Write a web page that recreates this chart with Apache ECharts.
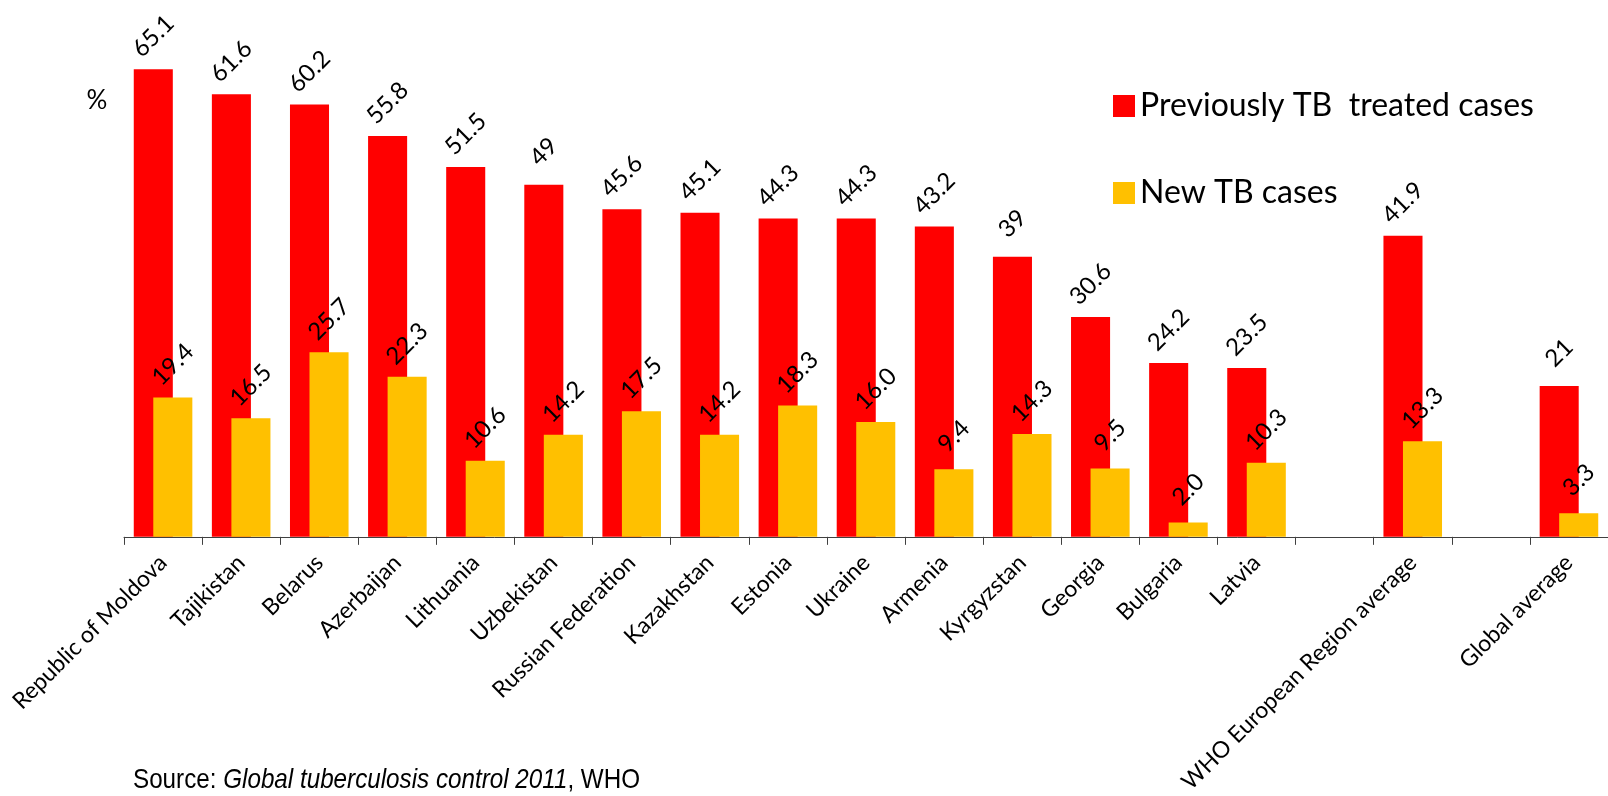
<!DOCTYPE html>
<html>
<head>
<meta charset="utf-8">
<script src="https://cdn.jsdelivr.net/npm/echarts@6/dist/echarts.min.js"></script>
<style>
html,body{margin:0;padding:0;background:#fff;}
#chart{width:1608px;height:796px;}
</style>
</head>
<body>
<div id="chart"></div>
<script>
var categories = ['Republic of Moldova','Tajikistan','Belarus','Azerbaijan','Lithuania','Uzbekistan','Russian Federation','Kazakhstan','Estonia','Ukraine','Armenia','Kyrgyzstan','Georgia','Bulgaria','Latvia','','WHO European Region average','','Global average'];
var previouslyTreated = [65.1,61.6,60.2,55.8,51.5,49,45.6,45.1,44.3,44.3,43.2,39,30.6,24.2,23.5,'-',41.9,'-',21];
var newCases = [19.4,16.5,25.7,22.3,10.6,14.2,17.5,14.2,18.3,16.0,9.4,14.3,9.5,2.0,10.3,'-',13.3,'-',3.3];
var seriesNames = ['Previously TB  treated cases','New TB cases'];

var FONT = 'Lato, "Noto Sans", sans-serif';
var chart = echarts.init(document.getElementById('chart'));
var labelBase = {
  show: true, position: 'top', distance: 33, rotate: 45,
  align: 'center', verticalAlign: 'middle',
  fontFamily: FONT, fontSize: 24, color: '#000'
};
chart.setOption({
  animation: false,
  grid: {left: 124, right: 0, top: 34, bottom: 258, containLabel: false},
  legend: {
    orient: 'vertical', left: 1108, top: 85,
    itemWidth: 22, itemHeight: 22, itemGap: 55,
    icon: 'rect',
    textStyle: {fontFamily: FONT, fontSize: 32, color: '#000', lineHeight: 22},
    data: seriesNames
  },
  xAxis: {
    type: 'category', data: categories,
    axisLine: {lineStyle: {color: '#404040', width: 1}},
    axisTick: {show: true, interval: 0, length: 8, lineStyle: {color: '#404040'}},
    axisLabel: {interval: 0, rotate: 45, margin: 22, fontFamily: FONT, fontSize: 23, color: '#000'}
  },
  yAxis: {type: 'value', min: 0, max: 70, show: false},
  series: [
    {
      name: seriesNames[0], type: 'bar', data: previouslyTreated,
      barWidth: '50%', barGap: '-50%',
      itemStyle: {color: '#FF0000'},
      label: Object.assign({}, labelBase, {formatter: function(p){return String(p.value);}})
    },
    {
      name: seriesNames[1], type: 'bar', data: newCases,
      barWidth: '50%', barGap: '-50%',
      itemStyle: {color: '#FFC000'},
      label: Object.assign({}, labelBase, {formatter: function(p){return Number(p.value).toFixed(1);}})
    }
  ],
  graphic: [
    {type: 'text', x: 97, y: 101, style: {text: '%', fontFamily: FONT, fontSize: 26, fill: '#000', align: 'center', verticalAlign: 'middle'}},
    {type: 'text', x: 133, y: 780, scaleX: 0.865, style: {
      text: '{n|Source: }{i|Global tuberculosis control 2011}{n|, WHO}',
      verticalAlign: 'middle',
      rich: {
        n: {fontFamily: '"Liberation Sans", Arial, sans-serif', fontSize: 28, fill: '#000'},
        i: {fontFamily: '"Liberation Sans", Arial, sans-serif', fontSize: 28, fontStyle: 'italic', fill: '#000'}
      }
    }}
  ]
});
</script>
</body>
</html>
